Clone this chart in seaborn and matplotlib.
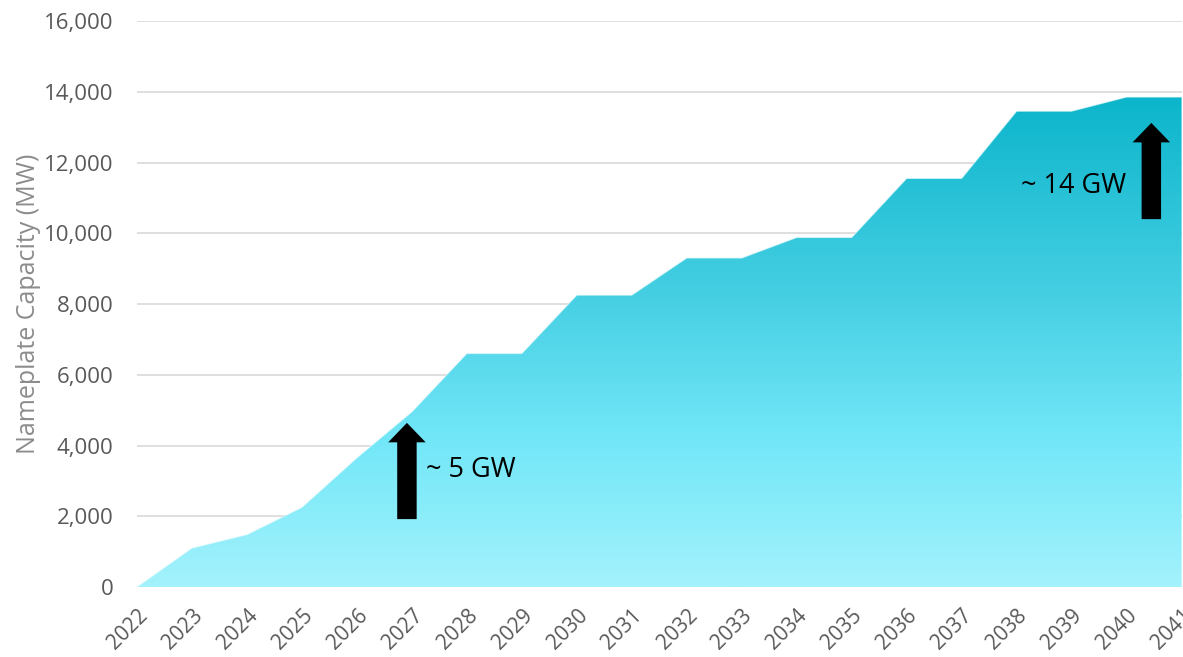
import numpy as np
import pandas as pd
import matplotlib
matplotlib.use("Agg")
import matplotlib.pyplot as plt
import seaborn as sns
from matplotlib.colors import LinearSegmentedColormap
from matplotlib.ticker import FuncFormatter

years = list(range(2022, 2042))
capacity_mw = [0, 1100, 1480, 2250, 3650, 4950, 6600, 6600, 8250, 8250,
               9300, 9300, 9880, 9880, 11550, 11550, 13450, 13450, 13850, 13850]
y_ticks = list(range(0, 16001, 2000))
y_label = "Nameplate Capacity (MW)"
annotations = [
    {"text": "~ 5 GW", "x": 2026.91, "y_tail": 1920, "y_tip": 4640, "tx": 2027.25, "ty": 3300, "ha": "left"},
    {"text": "~ 14 GW", "x": 2040.45, "y_tail": 10400, "y_tip": 13120, "tx": 2040.0, "ty": 11350, "ha": "right"},
]

df = pd.DataFrame({"year": years, "capacity": capacity_mw})

sns.set_theme(style="white")
plt.rcParams["font.family"] = ["Open Sans", "DejaVu Sans"]

fig = plt.figure(figsize=(11.83, 6.57), dpi=100)
ax = fig.add_axes([0.1158, 0.1065, 0.8830, 0.8615])

# gridlines
for t in y_ticks:
    ax.axhline(t, color="#d9d9d9", lw=1.2, zorder=0)

# gradient-filled area
cmap = LinearSegmentedColormap.from_list(
    "cyan", [(0.0, "#a3f2fc"), (0.30, "#72e7f8"), (0.58, "#48d0e4"), (1.0, "#0cb5cb")])
poly = ax.fill_between(df["year"], 0, df["capacity"], color="none", lw=0, zorder=1)
grad = np.linspace(0, 1, 256).reshape(-1, 1)
im = ax.imshow(grad, extent=[years[0], years[-1], 0, max(capacity_mw)], origin="lower",
               aspect="auto", cmap=cmap, zorder=1)
path = poly.get_paths()[0]
im.set_clip_path(path, transform=ax.transData)

sns.lineplot(data=df, x="year", y="capacity", ax=ax, color="#e8fbfd", lw=0.8, zorder=2,
             alpha=0.6)

ax.set_xlim(years[0], years[-1])
ax.set_ylim(0, 16000)
ax.set_xticks(years)
ax.set_xticklabels([str(y) for y in years], rotation=45, ha="right", rotation_mode="anchor",
                   fontsize=15, color="#595959")
ax.set_yticks(y_ticks)
ax.yaxis.set_major_formatter(FuncFormatter(lambda v, p: f"{int(v):,}"))
ax.tick_params(axis="y", labelsize=16, colors="#595959", length=0, pad=17)
ax.tick_params(axis="x", length=0, pad=13)
for lab in ax.get_yticklabels():
    lab.set_color("#595959")
ax.set_ylabel(y_label, fontsize=18, color="#8c8c8c", labelpad=2)
ax.set_xlabel("")
for s in ax.spines.values():
    s.set_visible(False)

for a in annotations:
    ax.annotate("", xy=(a["x"], a["y_tip"]), xytext=(a["x"], a["y_tail"]),
                arrowprops=dict(arrowstyle="simple,head_length=14,head_width=27,tail_width=14",
                                fc="black", ec="none", shrinkA=0, shrinkB=0, mutation_scale=1),
                zorder=5)
    ax.text(a["tx"], a["ty"], a["text"], fontsize=19.5, color="black", ha=a["ha"], va="center",
            zorder=5)

fig.savefig("out.png", dpi=100)
